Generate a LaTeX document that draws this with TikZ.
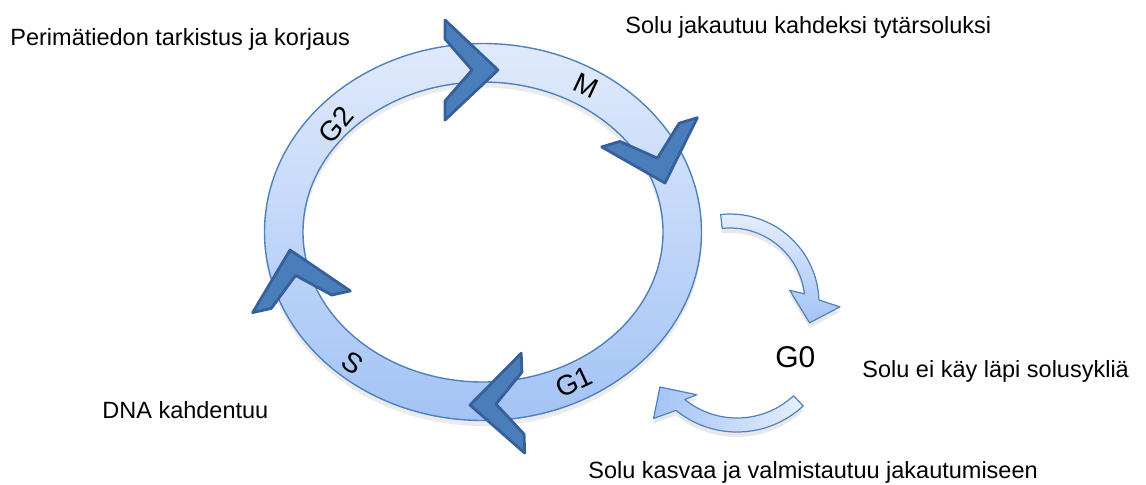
\documentclass[tikz,border=0pt]{standalone}
\usepackage{fontspec}
\setmainfont{Liberation Sans}
\usetikzlibrary{calc}

\begin{document}
\begin{tikzpicture}[x=0.5pt,y=-0.5pt,
  caption/.style={font=\fontsize{11.75}{14}\selectfont,anchor=base west,inner sep=0pt},
  phase/.style={font=\fontsize{14}{17}\selectfont,inner sep=0pt},
  chevron/.style={fill=CHEVFILL,draw=CHEVLINE,line width=1.4pt,line join=round},
  bendarrow/.style={draw=RINGLINE,line width=0.6pt,line join=round},
  softshadow/.style={preaction={fill=black,opacity=0.09,transform canvas={yshift=-2.5pt}}}]
\definecolor{RINGTOP}{HTML}{E0EAFC}
\definecolor{RINGBOT}{HTML}{A3C3F5}
\definecolor{RINGLINE}{HTML}{4F81BD}
\definecolor{CHEVFILL}{HTML}{4A7EBB}
\definecolor{CHEVLINE}{HTML}{37609A}
\useasboundingbox (0,0) rectangle (1146,484);
\coordinate (ring) at (483,232);
\coordinate (shade) at (483,237);
% ring of the cycle
\fill[black,opacity=0.08,even odd rule] (shade) ellipse[x radius=219,y radius=189] (shade) ellipse[x radius=179.5,y radius=149.5];
\shade[top color=RINGTOP,bottom color=RINGBOT,even odd rule] (ring) ellipse[x radius=218.5,y radius=188.5] (ring) ellipse[x radius=180,y radius=150];
\draw[RINGLINE,line width=0.7pt] (ring) ellipse[x radius=218.5,y radius=188.5] (ring) ellipse[x radius=180,y radius=150];
% chevrons on the ring
\foreach \cx/\cy/\ang in {498/70/0,665/183/-73,470/405/-178,290/250/102.5}{\draw[chevron,shift={(\cx,\cy)},rotate=\ang] (0,0) -- (-53,-50) -- (-53,-31) -- (-26,0) -- (-53,31) -- (-53,50) -- cycle;}
\node[phase,rotate=50] (g2) at (336,125) {G2};
\node[phase,rotate=-25] (m) at (586,86) {M};
\node[phase,rotate=25] (g1) at (574,382) {G1};
\node[phase,rotate=-35] (s) at (353,363) {S};
% arrows to and from G0
\begin{scope}[shift={(730,303)}]
\shadedraw[bendarrow,softshadow,top color=RINGTOP!80!white,bottom color=RINGBOT] (-96:89) arc[start angle=-96,end angle=-2,radius=89] -- (2:110) -- (14:82) -- (-12:61) -- (-7:75) arc[start angle=-7,end angle=-96,radius=75] -- cycle;
\end{scope}
\begin{scope}[shift={(737,335)}]
\shadedraw[bendarrow,softshadow,left color=RINGBOT,right color=RINGTOP!80!white] (47:97) arc[start angle=47,end angle=129,radius=97] -- (135:118) -- (146:93) -- (124:72) -- (129:83) arc[start angle=129,end angle=47,radius=83] -- cycle;
\end{scope}
\node[caption,font=\fontsize{15}{18}\selectfont] (g0) at (775,367) {G0};
% descriptions
\node[caption] (repair) at (10,45) {Perimätiedon tarkistus ja korjaus};
\node[caption] (divide) at (625,33) {Solu jakautuu kahdeksi tytärsoluksi};
\node[caption] (rest) at (862,377) {Solu ei käy läpi solusykliä};
\node[caption] (grow) at (588,478) {Solu kasvaa ja valmistautuu jakautumiseen};
\node[caption] (dna) at (102,418) {DNA kahdentuu};
\end{tikzpicture}
\end{document}
